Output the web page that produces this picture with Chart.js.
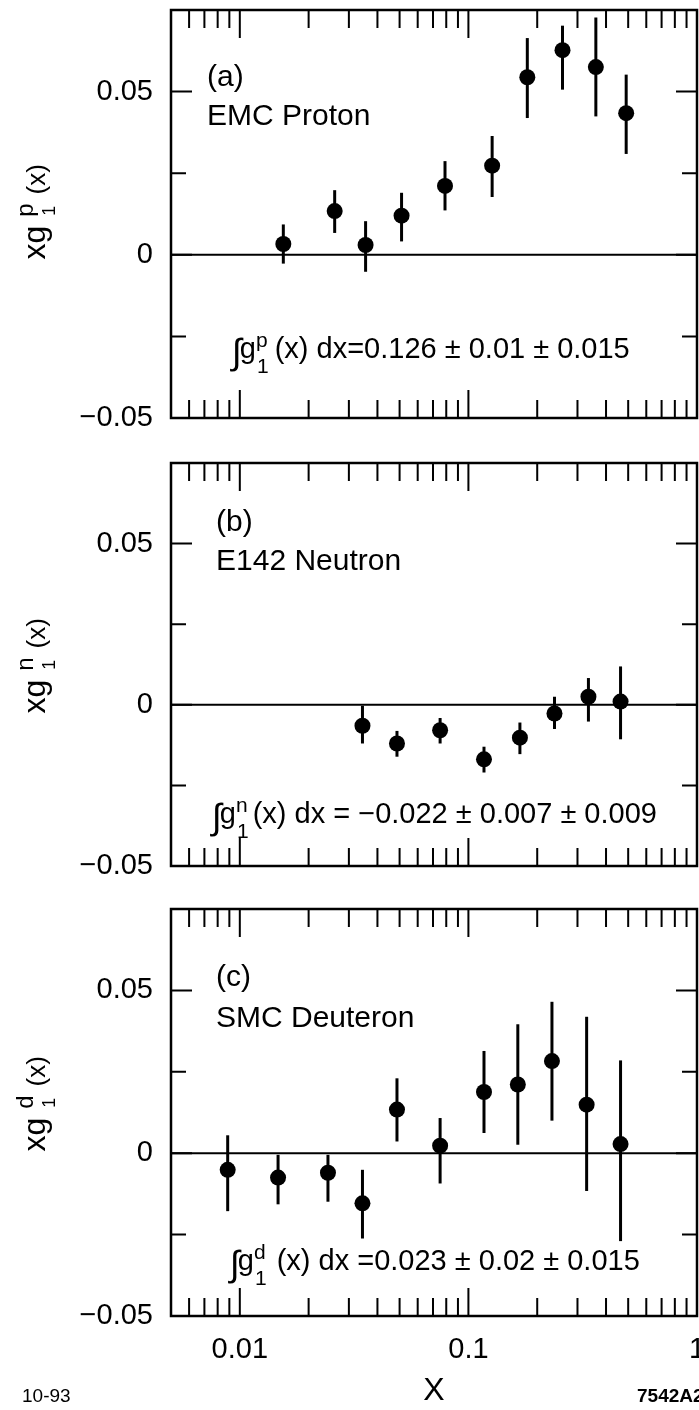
<!DOCTYPE html>
<html>
<head>
<meta charset="utf-8">
<script src="https://cdn.jsdelivr.net/npm/chart.js@4.4.0/dist/chart.umd.min.js"></script>
<style>
  html, body { margin: 0; padding: 0; background: #fff; }
  #wrap { position: relative; width: 699px; height: 1410px; overflow: hidden; }
  #wrap canvas { position: absolute; left: 0; }
</style>
</head>
<body>
<div id="wrap">
  <canvas id="panelA" width="699" height="440" style="top:0px"></canvas>
  <canvas id="panelB" width="699" height="440" style="top:440px"></canvas>
  <canvas id="panelC" width="699" height="530" style="top:880px"></canvas>
</div>
<script>
const FONT = "'Liberation Sans', Arial, Helvetica, sans-serif";

// (a) EMC proton: x, x*g1, error bar up / down
const xProton = [0.0155, 0.026, 0.0355, 0.051, 0.079, 0.127, 0.181, 0.258, 0.361, 0.49];
const yProton = [0.0033, 0.0134, 0.0030, 0.0120, 0.0211, 0.0273, 0.0544, 0.0627, 0.0575, 0.0434];
const upProton = [0.0060, 0.0064, 0.0073, 0.0070, 0.0076, 0.0091, 0.0120, 0.0075, 0.0152, 0.0118];
const downProton = [0.0060, 0.0067, 0.0082, 0.0079, 0.0075, 0.0096, 0.0125, 0.0121, 0.0151, 0.0125];

// (b) E142 neutron
const xNeutron = [0.0344, 0.0487, 0.0752, 0.117, 0.168, 0.238, 0.335, 0.463];
const yNeutron = [-0.0065, -0.0120, -0.0079, -0.0169, -0.0102, -0.0027, 0.0025, 0.0010];
const upNeutron = [0.0062, 0.0039, 0.0038, 0.0039, 0.0047, 0.0052, 0.0058, 0.0109];
const downNeutron = [0.0055, 0.0041, 0.0041, 0.0041, 0.0051, 0.0048, 0.0077, 0.0117];

// (c) SMC deuteron
const xDeuteron = [0.00885, 0.0147, 0.0243, 0.0344, 0.0487, 0.0752, 0.117, 0.1645, 0.232, 0.329, 0.463];
const yDeuteron = [-0.0051, -0.0075, -0.0060, -0.0154, 0.0134, 0.0023, 0.0188, 0.0211, 0.0283, 0.0149, 0.0028];
const upDeuteron = [0.0106, 0.0070, 0.0055, 0.0103, 0.0096, 0.0085, 0.0126, 0.0185, 0.0182, 0.0270, 0.0257];
const downDeuteron = [0.0127, 0.0082, 0.0089, 0.0108, 0.0098, 0.0116, 0.0126, 0.0185, 0.0183, 0.0265, 0.0298];

// axes
const xTickValues = [0.01, 0.1, 1];
const xTickLabels = ['0.01', '0.1', '1'];
const xMinorValues = [0.006, 0.007, 0.008, 0.009, 0.02, 0.03, 0.04, 0.05, 0.06, 0.07, 0.08, 0.09,
                      0.2, 0.3, 0.4, 0.5, 0.6, 0.7, 0.8, 0.9];
const yTickValues = [-0.05, 0, 0.05];
const yTickLabels = ['\u22120.05', '0', '0.05'];
const yMinorValues = [-0.025, 0.025];

// superscript drawn above subscript at the same x, returns the x after them
function stacked(ctx, x, base, sup, sub, supSize, supRise, subSize, subDrop) {
  ctx.font = supSize + 'px ' + FONT;
  ctx.fillText(sup, x, base - supRise);
  const w1 = ctx.measureText(sup).width;
  ctx.font = subSize + 'px ' + FONT;
  ctx.fillText(sub, x + 1, base + subDrop);
  const w2 = ctx.measureText(sub).width + 1;
  return x + Math.max(w1, w2);
}

// keep the plot area fixed: no extra room for half labels
function noPad(s) {
  s.paddingTop = 0; s.paddingBottom = 0; s.paddingLeft = 0; s.paddingRight = 0;
}

function makeDecor(cfg) {
  return {
    id: 'decor',
    beforeDatasetsDraw(chart) {
      const { ctx, chartArea: a, scales: { y } } = chart;
      ctx.save();
      ctx.strokeStyle = '#000';
      // zero line
      const y0 = y.getPixelForValue(0);
      ctx.lineWidth = 2;
      ctx.beginPath();
      ctx.moveTo(a.left, y0);
      ctx.lineTo(a.right, y0);
      ctx.stroke();
      // error bars
      ctx.lineWidth = 3;
      const meta = chart.getDatasetMeta(0);
      chart.data.datasets[0].data.forEach((p, i) => {
        const px = meta.data[i].x;
        ctx.beginPath();
        ctx.moveTo(px, y.getPixelForValue(p.y + p.up));
        ctx.lineTo(px, y.getPixelForValue(p.y - p.down));
        ctx.stroke();
      });
      ctx.restore();
    },
    afterDraw(chart) {
      const { ctx, chartArea: a, scales: { x, y } } = chart;
      ctx.save();
      ctx.strokeStyle = '#000';
      ctx.fillStyle = '#000';
      // inward ticks on all four sides
      ctx.lineWidth = 2;
      const tickX = (v, len) => {
        const px = x.getPixelForValue(v);
        ctx.beginPath();
        ctx.moveTo(px, a.top); ctx.lineTo(px, a.top + len);
        ctx.moveTo(px, a.bottom); ctx.lineTo(px, a.bottom - len);
        ctx.stroke();
      };
      const tickY = (v, len) => {
        const py = y.getPixelForValue(v);
        ctx.beginPath();
        ctx.moveTo(a.left, py); ctx.lineTo(a.left + len, py);
        ctx.moveTo(a.right, py); ctx.lineTo(a.right - len, py);
        ctx.stroke();
      };
      xMinorValues.forEach(v => tickX(v, 18));
      xTickValues.forEach(v => tickX(v, 28));
      yMinorValues.forEach(v => tickY(v, 15));
      yTickValues.forEach(v => tickY(v, 21));
      // frame
      ctx.lineWidth = 2.5;
      ctx.strokeRect(a.left, a.top, a.right - a.left, a.bottom - a.top);

      ctx.textBaseline = 'alphabetic';
      ctx.textAlign = 'left';
      // panel label and experiment name
      ctx.font = '30px ' + FONT;
      ctx.fillText(cfg.letter, cfg.textX, cfg.letterBase);
      ctx.fillText(cfg.name, cfg.textX, cfg.nameBase);

      // integral text
      let fx = cfg.formulaX;
      const fb = cfg.formulaBase;
      ctx.font = '36px ' + FONT;
      ctx.fillText('\u222B', fx, fb + 6);
      fx += ctx.measureText('\u222B').width - 2;
      ctx.font = '29px ' + FONT;
      ctx.fillText('g', fx, fb);
      fx += ctx.measureText('g').width;
      fx = stacked(ctx, fx, fb, cfg.sup, '1', 21, 11, 21, 15);
      ctx.font = '29px ' + FONT;
      ctx.fillText(cfg.rest, fx + cfg.restGap, fb);

      // y axis title, rotated
      ctx.save();
      ctx.translate(45, cfg.titleY);
      ctx.rotate(-Math.PI / 2);
      ctx.font = '32px ' + FONT;
      const wxg = ctx.measureText('xg').width;
      ctx.font = '26px ' + FONT;
      const wx = ctx.measureText('(x)').width;
      const total = wxg + 9 + 13 + 9 + wx;
      let tx = -total / 2;
      ctx.font = '32px ' + FONT;
      ctx.fillText('xg', tx, 0);
      tx += wxg + 9;
      tx = stacked(ctx, tx, 0, cfg.sup, '1', 24, 12, 18, 10);
      ctx.font = '26px ' + FONT;
      ctx.fillText('(x)', tx + 9, 0);
      ctx.restore();

      if (cfg.footer) {
        ctx.font = '19px ' + FONT;
        ctx.fillText('10-93', 22, 522);
        ctx.font = 'bold 19px ' + FONT;
        ctx.fillText('7542A2', 637, 522);
      }
      ctx.restore();
    }
  };
}

function makePanel(id, xs, ys, ups, downs, cfg) {
  const pts = xs.map((xv, i) => ({ x: xv, y: ys[i], up: ups[i], down: downs[i] }));
  return new Chart(document.getElementById(id), {
    type: 'scatter',
    data: {
      datasets: [{
        data: pts,
        pointRadius: 8,
        pointHoverRadius: 8,
        pointBackgroundColor: '#000',
        pointBorderColor: '#000',
        pointBorderWidth: 0
      }]
    },
    options: {
      responsive: false,
      animation: false,
      events: [],
      layout: { autoPadding: false, padding: { left: 0, right: 2, top: cfg.padTop, bottom: 0 } },
      plugins: { legend: { display: false }, tooltip: { enabled: false } },
      scales: {
        x: {
          type: 'logarithmic',
          min: 0.005,
          max: 1,
          grid: { display: false, drawTicks: false },
          border: { display: false },
          afterBuildTicks: s => { s.ticks = xTickValues.map(v => ({ value: v })); },
          ticks: {
            display: cfg.showX,
            autoSkip: false,
            maxRotation: 0,
            padding: 17,
            color: '#000',
            font: { family: FONT, size: 29 },
            callback: (v, i) => xTickLabels[i]
          },
          title: {
            display: cfg.showX,
            text: 'X',
            color: '#000',
            font: { family: FONT, size: 32 },
            padding: 0
          },
          afterFit: s => { s.height = cfg.bottomSpace; noPad(s); }
        },
        y: {
          min: -0.05,
          max: 0.075,
          grid: { display: false, drawTicks: false },
          border: { display: false },
          afterBuildTicks: s => { s.ticks = yTickValues.map(v => ({ value: v })); },
          ticks: {
            padding: 18,
            color: '#000',
            font: { family: FONT, size: 29 },
            callback: (v, i) => yTickLabels[i]
          },
          afterFit: s => { s.width = 171; noPad(s); }
        }
      }
    },
    plugins: [makeDecor(cfg)]
  });
}

makePanel('panelA', xProton, yProton, upProton, downProton, {
  padTop: 10, bottomSpace: 22, showX: false,
  letter: '(a)', name: 'EMC Proton', textX: 207, letterBase: 86, nameBase: 125,
  formulaX: 232, formulaBase: 358, sup: 'p', restGap: 6,
  rest: '(x) dx=0.126 \u00B1 0.01 \u00B1 0.015',
  titleY: 212
});

makePanel('panelB', xNeutron, yNeutron, upNeutron, downNeutron, {
  padTop: 23, bottomSpace: 14, showX: false,
  letter: '(b)', name: 'E142 Neutron', textX: 216, letterBase: 91, nameBase: 130,
  formulaX: 212, formulaBase: 383, sup: 'n', restGap: 4,
  rest: '(x) dx = \u22120.022 \u00B1 0.007 \u00B1 0.009',
  titleY: 226
});

makePanel('panelC', xDeuteron, yDeuteron, upDeuteron, downDeuteron, {
  padTop: 29, bottomSpace: 94, showX: true,
  letter: '(c)', name: 'SMC Deuteron', textX: 216, letterBase: 106, nameBase: 147,
  formulaX: 230, formulaBase: 390, sup: 'd', restGap: 10,
  rest: '(x) dx =0.023 \u00B1 0.02 \u00B1 0.015',
  titleY: 224, footer: true
});
</script>
</body>
</html>
